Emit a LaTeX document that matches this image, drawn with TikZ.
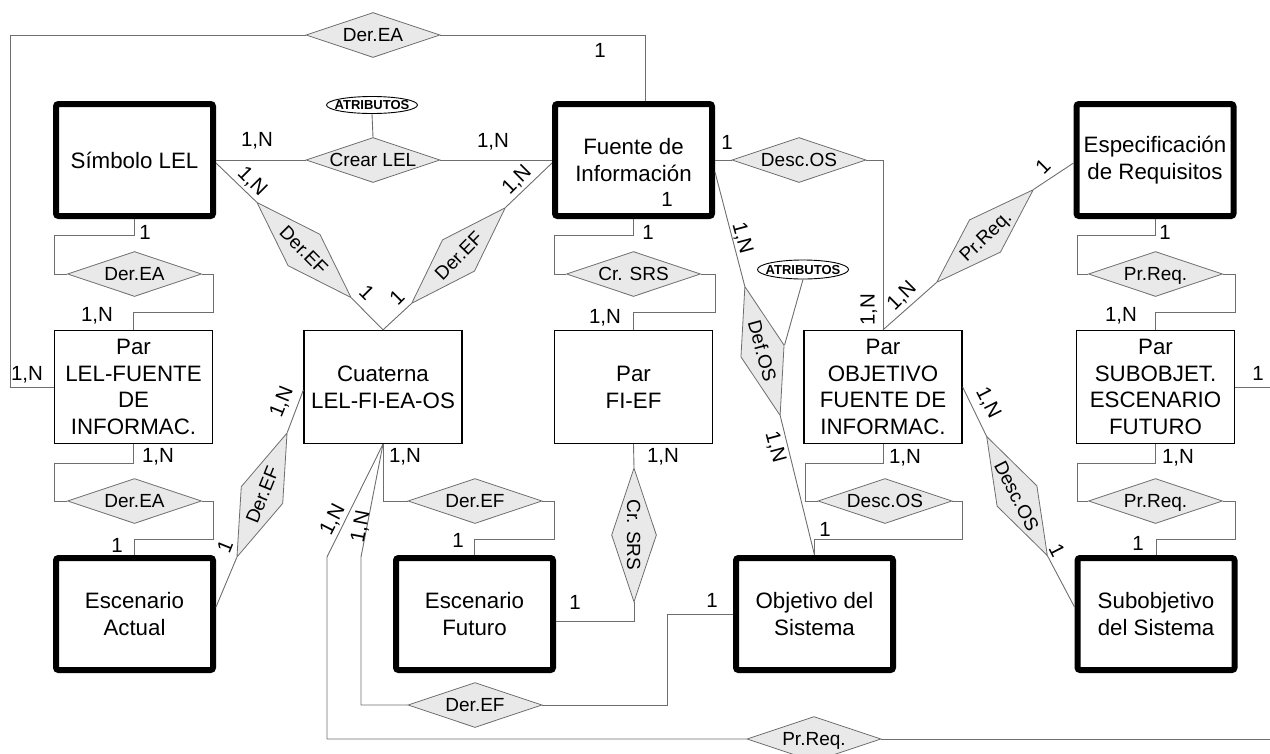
\documentclass[tikz,border=0pt]{standalone}
\usepackage{fontspec}
\setmainfont{Liberation Sans}
\usetikzlibrary{shapes.geometric,calc}
\definecolor{lgray}{RGB}{110,110,110}
\definecolor{dfill}{RGB}{233,233,233}
\newcommand{\dtx}[1]{\smash{\raisebox{-0.36em}{\makebox[0pt]{#1}}}}
\begin{document}
\begin{tikzpicture}[x=1pt,y=-1pt,
  ln/.style={draw=lgray, line width=0.9},
  ent/.style={draw=black, line width=6, minimum width=157, minimum height=112, rounded corners=2.5, align=center, inner sep=2, font=\fontsize{22.3}{26.7}\selectfont},
  rbox/.style={draw=black, line width=1.3, minimum width=158, minimum height=113, align=center, inner sep=2, font=\fontsize{22.3}{26.7}\selectfont},
  rel/.style={diamond, draw=lgray, line width=0.8, fill=dfill, minimum width=134, minimum height=45, inner sep=0, font=\fontsize{19}{22}\selectfont},
  card/.style={font=\fontsize{20.5}{24}\selectfont, inner sep=0},
  attr/.style={ellipse, draw=black, line width=0.9, minimum width=91, minimum height=17, inner sep=0, font=\bfseries\fontsize{13}{15}\selectfont}
]
\useasboundingbox (0,0) rectangle (1270,753);
% entities
\node[ent] (sim) at (134.5,160) {Símbolo LEL};
\node[ent] (fue) at (633.5,160) {Fuente de\\Información};
\node[ent] (esp) at (1155,160) {Especificación\\de Requisitos};
\node[ent] (ea) at (134.5,614) {Escenario\\Actual};
\node[ent] (ef) at (474.5,614) {Escenario\\Futuro};
\node[ent] (obj) at (814.5,614) {Objetivo del\\Sistema};
\node[ent] (sub) at (1156,614) {Subobjetivo\\del Sistema};
% relation boxes
\node[rbox] (plf) at (133.5,387) {Par\\LEL-FUENTE\\DE\\INFORMAC.};
\node[rbox] (cua) at (383,387) {Cuaterna\\LEL-FI-EA-OS};
\node[rbox] (pfe) at (633.5,387) {Par\\FI-EF};
\node[rbox] (pof) at (883,387) {Par\\OBJETIVO\\FUENTE DE\\INFORMAC.};
\node[rbox] (pse) at (1155.5,387) {Par\\SUBOBJET.\\ESCENARIO\\FUTURO};
% diamonds
\node[rel] (dEAt) at (373,35) {\dtx{Der.EA}};
\node[rel] (crl) at (373,160) {\dtx{Crear LEL}};
\node[rel, rotate=-45.3] (dEF1) at (304,250) {\dtx{Der.EF}};
\node[rel, rotate=45.6] (dEF2) at (458.5,255.5) {\dtx{Der.EF}};
\node[rel] (dEA2) at (134.5,274) {\dtx{Der.EA}};
\node[rel] (crs) at (633.5,274) {\dtx{Cr. SRS}};
\node[rel] (dDO1) at (799,160) {\dtx{Desc.OS}};
\node[rel, rotate=43.8] (dPR2) at (985,236) {\dtx{Pr.Req.}};
\node[rel] (dPR3) at (1155.5,274) {\dtx{Pr.Req.}};
\node[rel] (dEA3) at (134.5,501) {\dtx{Der.EA}};
\node[rel, rotate=68] (dEF3) at (262,495) {\dtx{Der.EF}};
\node[rel] (dEF4) at (475,501) {\dtx{Der.EF}};
\node[rel, rotate=-90] (dCR) at (634,535) {\dtx{Cr. SRS}};
\node[rel, rotate=-74.7] (dDF) at (762.5,351) {\dtx{Def.OS}};
\node[rel] (dDO2) at (885,501) {\dtx{Desc.OS}};
\node[rel, rotate=-63] (dDO3) at (1017,496) {\dtx{Desc.OS}};
\node[rel] (dPR4) at (1155.5,501) {\dtx{Pr.Req.}};
\node[rel] (dEF5) at (475,705) {\dtx{Der.EF}};
\node[rel] (dPR) at (814,739) {\dtx{Pr.Req.}};
% attributes
\node[attr] (at1) at (372,105) {\dtx{ATRIBUTOS}};
\node[attr, minimum height=19] (at2) at (803,269.5) {\dtx{ATRIBUTOS}};
% connectors
\draw[ln] (dEAt.west) -- (10,35) |- (plf.west);
\draw[ln] (dEAt.east) -| ([xshift=11.5]fue.north);
\draw[ln] (at1.south) -- (crl.north);
\draw[ln] (sim.east) -- (crl.west);
\draw[ln] (crl.east) -- (fue.west);
\draw[ln] ([yshift=-3]sim.east) -- (dEF1.west);
\draw[ln] (dEF1.east) -- (cua.north);
\draw[ln] (cua.north) -- (dEF2.west);
\draw[ln] (dEF2.east) -- ([yshift=-3]fue.west);
\draw[ln] (sim.south) |- (54,235) |- (dEA2.west);
\draw[ln] (dEA2.east) -| (213,312) -| (plf.north);
\draw[ln] (plf.south) |- (54,463) |- (dEA3.west);
\draw[ln] (dEA3.east) -| (213,539) -| (ea.north);
\draw[ln] (fue.south) |- (554,235) |- (crs.west);
\draw[ln] (crs.east) -| (715,312) -| (pfe.north);
\draw[ln] (esp.south) |- (1077,235) |- (dPR3.west);
\draw[ln] (dPR3.east) -| (1235,312) -| (pse.north);
\draw[ln] (pse.south) |- (1077,463) |- (dPR4.west);
\draw[ln] (dPR4.east) -| (1235,539) -| (sub.north);
\draw[ln] (pof.south) |- (805,463) |- (dDO2.west);
\draw[ln] (dDO2.east) -| (962,539) -| (obj.north);
\draw[ln] (cua.south) |- (dEF4.west);
\draw[ln] (dEF4.east) -| (554,539) -| (ef.north);
\draw[ln] (cua.south) -- (327,557) |- (dPR.west);
\draw[ln] (dPR.east) -- (1270,739);
\draw[ln] (cua.south) -- (361,557) |- (dEF5.west);
\draw[ln] (dEF5.east) -| (667,614) -- (obj.west);
\draw[ln] (pfe.south) -- (dCR.west);
\draw[ln] (dCR.east) |- ([yshift=-7]ef.east);
\draw[ln] ([yshift=7]ea.east) -- (dEF3.west);
\draw[ln] (dEF3.east) -- ([yshift=-3]cua.west);
\draw[ln] (fue.east) -- (dDO1.west);
\draw[ln] (dDO1.east) -| (pof.north);
\draw[ln] (pof.north) -- (dPR2.west);
\draw[ln] (dPR2.east) -- ([yshift=-3]esp.west);
\draw[ln] ([yshift=-12]fue.east) -- (dDF.west);
\draw[ln] (dDF.east) -- (obj.north);
\draw[ln] (at2.south) -- (dDF.north);
\draw[ln] (pof.east) -- (dDO3.west);
\draw[ln] (dDO3.east) -- ([yshift=7]sub.west);
\draw[ln] (pse.east) -- (1270,387);
% cardinalities
\node[card] (c1) at (600,50) {1};
\node[card] (c2) at (257,141) {1,N};
\node[card] (c3) at (493,142) {1,N};
\node[card] (c4) at (667,199) {1};
\node[card, rotate=-45] (c5) at (252,182) {1,N};
\node[card, rotate=-45] (c6) at (367,293) {1};
\node[card, rotate=45] (c7) at (397,297) {1};
\node[card, rotate=45] (c8) at (517,180) {1,N};
\node[card] (c9) at (145,232) {1};
\node[card] (c10) at (97,316) {1,N};
\node[card] (c11) at (648,232) {1};
\node[card] (c12) at (605,318) {1,N};
\node[card] (c13) at (1165,232) {1};
\node[card] (c14) at (1121,316) {1,N};
\node[card] (c15) at (727,142) {1};
\node[card, rotate=90] (c16) at (869,310) {1,N};
\node[card, rotate=45] (c17) at (902,296) {1,N};
\node[card, rotate=45] (c18) at (1043,166) {1};
\node[card, rotate=-75] (c19) at (742,238) {1,N};
\node[card, rotate=-75] (c20) at (775,447) {1,N};
\node[card, rotate=-63] (c21) at (988,403) {1,N};
\node[card, rotate=-63] (c22) at (1057,550) {1};
\node[card] (c23) at (27,375) {1,N};
\node[card] (c24) at (158,457) {1,N};
\node[card] (c25) at (117,545) {1};
\node[card, rotate=68] (c26) at (282,402) {1,N};
\node[card, rotate=68] (c27) at (225,547) {1};
\node[card] (c28) at (405,457) {1,N};
\node[card] (c29) at (458,540) {1};
\node[card, rotate=63] (c30) at (333,520) {1,N};
\node[card, rotate=79] (c31) at (361,527) {1,N};
\node[card] (c32) at (663,457) {1,N};
\node[card] (c33) at (575,602) {1};
\node[card] (c34) at (712,600) {1};
\node[card] (c35) at (905,458) {1,N};
\node[card] (c36) at (825,529) {1};
\node[card] (c37) at (1178,458) {1,N};
\node[card] (c38) at (1138,543) {1};
\node[card] (c39) at (1258,373) {1};
\end{tikzpicture}
\end{document}
